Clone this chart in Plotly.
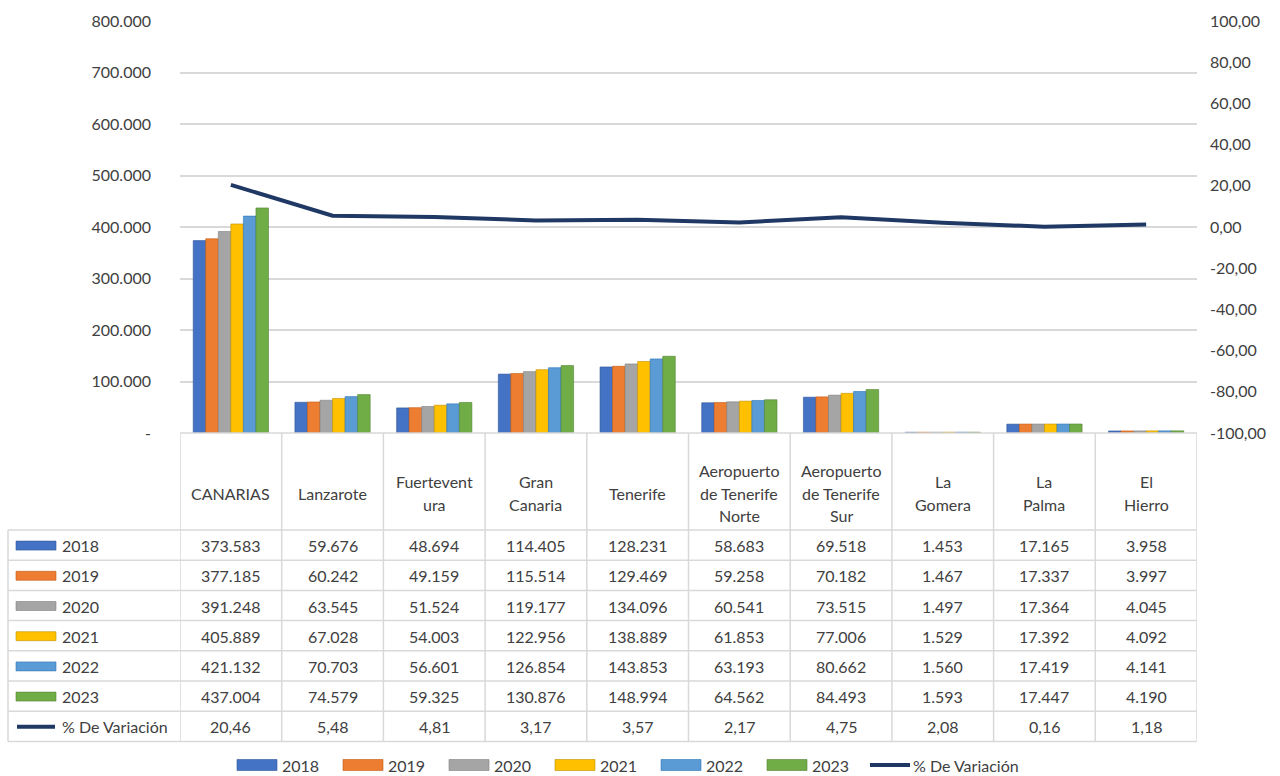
import plotly.graph_objects as go

# ---------------- data ----------------
categories = ["CANARIAS", "Lanzarote", "Fuerteventura", "Gran Canaria", "Tenerife",
              "Aeropuerto de Tenerife Norte", "Aeropuerto de Tenerife Sur",
              "La Gomera", "La Palma", "El Hierro"]
header_labels = ["CANARIAS", "Lanzarote", "Fuertevent<br>ura", "Gran<br>Canaria", "Tenerife",
                 "Aeropuerto<br>de Tenerife<br>Norte", "Aeropuerto<br>de Tenerife<br>Sur",
                 "La<br>Gomera", "La<br>Palma", "El<br>Hierro"]
years = ["2018", "2019", "2020", "2021", "2022", "2023"]
v2018 = [373583, 59676, 48694, 114405, 128231, 58683, 69518, 1453, 17165, 3958]
v2019 = [377185, 60242, 49159, 115514, 129469, 59258, 70182, 1467, 17337, 3997]
v2020 = [391248, 63545, 51524, 119177, 134096, 60541, 73515, 1497, 17364, 4045]
v2021 = [405889, 67028, 54003, 122956, 138889, 61853, 77006, 1529, 17392, 4092]
v2022 = [421132, 70703, 56601, 126854, 143853, 63193, 80662, 1560, 17419, 4141]
v2023 = [437004, 74579, 59325, 130876, 148994, 64562, 84493, 1593, 17447, 4190]
variacion = [20.46, 5.48, 4.81, 3.17, 3.57, 2.17, 4.75, 2.08, 0.16, 1.18]
line_name = "% De Variación"
left_ticks = [0, 100000, 200000, 300000, 400000, 500000, 600000, 700000, 800000]
right_ticks = [-100, -80, -60, -40, -20, 0, 20, 40, 60, 80, 100]

series = [v2018, v2019, v2020, v2021, v2022, v2023]
colors = ["#4472C4", "#ED7D31", "#A5A5A5", "#FFC000", "#5B9BD5", "#70AD47"]
edges = ["#2F5597", "#C55A11", "#7F7F7F", "#BF9000", "#2E75B6", "#548235"]
line_color = "#1F3864"
txt = "#404040"
grid = "#D9D9D9"
FONT = "Lato"
FS = 16

def fmt_int(v):
    return f"{v:,}".replace(",", ".")

def fmt_dec(v):
    s = f"{abs(v):.2f}".replace(".", ",")
    return ("-" + s) if v < 0 else s

# ---------------- geometry (pixels) ----------------
W, H = 1280, 776
L, R, T, B = 180, 1197, 21, 433
def px(x):
    return (x - L) / (R - L)
def py(y):
    return (B - y) / (B - T)

fig = go.Figure()
for name, vals, c, e in zip(years, series, colors, edges):
    fig.add_trace(go.Bar(x=categories, y=vals, name=name, marker_color=c,
                         marker_line_color=e, marker_line_width=0.6, showlegend=False))
fig.add_trace(go.Scatter(x=categories, y=variacion, name=line_name, mode="lines",
                         line=dict(color=line_color, width=4), yaxis="y2", showlegend=False))

shapes = []
annotations = []
n = len(categories)
font = dict(family=FONT, size=FS, color=txt)

# table borders
row_h = 30.2
hdr_bottom = 530
rows_y = [hdr_bottom + i * row_h for i in range(len(years) + 2)]
tbl_bottom = rows_y[-1]
line_style = dict(color=grid, width=1.5)
shapes.append(dict(type="line", xref="x", yref="paper", x0=-0.5, x1=n - 0.5,
                   y0=py(B), y1=py(B), line=line_style))
for yy in rows_y:
    shapes.append(dict(type="line", xref="paper", yref="paper", x0=px(8), x1=1.0,
                       y0=py(yy), y1=py(yy), line=line_style))
for i in range(n + 1):
    shapes.append(dict(type="line", xref="x", yref="paper", x0=i - 0.5, x1=i - 0.5,
                       y0=py(B), y1=py(tbl_bottom), line=line_style))
shapes.append(dict(type="line", xref="paper", yref="paper", x0=px(8), x1=px(8),
                   y0=py(hdr_bottom), y1=py(tbl_bottom), line=line_style))

# header labels
for i, lab in enumerate(header_labels):
    parts = lab.split("<br>")
    k = len(parts)
    for j, p in enumerate(parts):
        yc = 493 + (j - (k - 1) / 2) * 22.5
        annotations.append(dict(x=i, y=py(yc), xref="x", yref="paper", text=p,
                                showarrow=False, xanchor="center", yanchor="middle", font=font))

# data rows
row_vals = [[fmt_int(v) for v in s] for s in series] + [[fmt_dec(v) for v in variacion]]
row_names = years + [line_name]
for r, (rname, vals) in enumerate(zip(row_names, row_vals)):
    yc = rows_y[r] + row_h / 2 + 0.5
    if r < len(years):
        shapes.append(dict(type="rect", xref="paper", yref="paper", x0=px(16), x1=px(56),
                           y0=py(yc - 4.5), y1=py(yc + 4.5), fillcolor=colors[r],
                           line=dict(color=edges[r], width=0.6)))
    else:
        shapes.append(dict(type="line", xref="paper", yref="paper", x0=px(17), x1=px(55),
                           y0=py(yc), y1=py(yc), line=dict(color=line_color, width=4)))
    annotations.append(dict(x=px(60), y=py(yc), xref="paper", yref="paper", text=rname,
                            showarrow=False, xanchor="left", yanchor="middle", font=font))
    for i, v in enumerate(vals):
        annotations.append(dict(x=i, y=py(yc), xref="x", yref="paper", text=v,
                                showarrow=False, xanchor="center", yanchor="middle", font=font))

# bottom legend
leg_y = 765
x0 = 237
for k, name in enumerate(years):
    xs = x0 + k * 106
    shapes.append(dict(type="rect", xref="paper", yref="paper", x0=px(xs), x1=px(xs + 40),
                       y0=py(leg_y - 5.5), y1=py(leg_y + 5.5), fillcolor=colors[k],
                       line=dict(color=edges[k], width=0.6)))
    annotations.append(dict(x=px(xs + 43), y=py(leg_y), xref="paper", yref="paper", text=name,
                            showarrow=False, xanchor="left", yanchor="middle", font=font))
xs = x0 + len(years) * 106 - 5
shapes.append(dict(type="line", xref="paper", yref="paper", x0=px(xs + 2), x1=px(xs + 42),
                   y0=py(leg_y), y1=py(leg_y), line=dict(color=line_color, width=4)))
annotations.append(dict(x=px(xs + 43), y=py(leg_y), xref="paper", yref="paper", text=line_name,
                        showarrow=False, xanchor="left", yanchor="middle", font=font))

fig.update_layout(
    width=W, height=H, autosize=False,
    margin=dict(l=L, r=W - R, t=T, b=H - B, pad=0),
    paper_bgcolor="white", plot_bgcolor="white",
    barmode="group", bargap=0.26, bargroupgap=0,
    font=font,
    xaxis=dict(type="category", range=[-0.5, n - 0.5], showticklabels=False,
               showgrid=False, zeroline=False, showline=False, ticks=""),
    yaxis=dict(range=[0, 800000], tickvals=left_ticks,
               ticktext=["-" if v == 0 else fmt_int(v) for v in left_ticks],
               showgrid=True, gridcolor=grid, gridwidth=1.5, zeroline=False,
               showline=False, ticks="", ticklabelstandoff=28, tickfont=font),
    yaxis2=dict(range=[-100, 100], overlaying="y", side="right", tickvals=right_ticks,
                ticktext=[fmt_dec(v) for v in right_ticks], showgrid=False,
                zeroline=False, showline=False, ticks="", ticklabelstandoff=12,
                tickfont=font),
    shapes=shapes, annotations=annotations, showlegend=False,
)

fig.write_html("out.html", config={"displayModeBar": False},
               post_script="document.body.style.margin='0';document.body.style.overflow='hidden';")
